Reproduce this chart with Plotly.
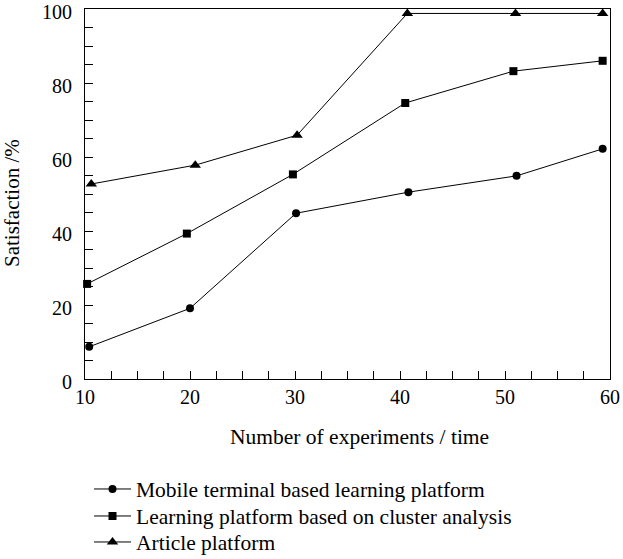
import plotly.graph_objects as go

# Data
mobile_x = [10.4, 20.0, 30.1, 40.8, 51.1, 59.3]
mobile_y = [8.7, 19.1, 44.8, 50.5, 54.9, 62.2]

cluster_x = [10.2, 19.7, 29.8, 40.5, 50.8, 59.3]
cluster_y = [25.7, 39.3, 55.3, 74.6, 83.2, 86.0]

article_x = [10.6, 20.5, 30.2, 40.7, 51.0, 59.3]
article_y = [52.7, 57.8, 65.9, 98.8, 98.8, 98.8]

series_names = [
    "Mobile terminal based learning platform",
    "Learning platform based on cluster analysis",
    "Article platform",
]
x_ticks = [10, 20, 30, 40, 50, 60]
y_ticks = [0, 20, 40, 60, 80, 100]
x_title = "Number of experiments / time"
y_title = "Satisfaction /%"

FONT = "Liberation Serif, Times New Roman, serif"
W, H = 623, 559
L, R, T, B = 85, 13, 9, 180
PW, PH = W - L - R, H - T - B

fig = go.Figure()
legend_ids = ["legend", "legend2", "legend3"]
legend_centers_px = [489, 516, 542]
for i, (xs, ys, sym, sz) in enumerate([
    (mobile_x, mobile_y, "circle", 8),
    (cluster_x, cluster_y, "square", 8),
    (article_x, article_y, "triangle-up", 10),
]):
    fig.add_trace(go.Scatter(
        x=xs, y=ys, mode="lines+markers", name=series_names[i],
        legend=legend_ids[i],
        line=dict(color="black", width=1),
        marker=dict(symbol=sym, size=sz, color="black"),
        cliponaxis=False,
    ))

legend_common = dict(
    xref="container", yref="container", xanchor="left", yanchor="middle",
    font=dict(family=FONT, size=21.5, color="black"),
    itemwidth=37, bgcolor="rgba(0,0,0,0)",
)
legend_layout = {}
for lid, cy in zip(legend_ids, legend_centers_px):
    legend_layout[lid] = dict(legend_common, x=89 / W, y=(H - cy) / H)

fig.update_layout(
    width=W, height=H,
    margin=dict(l=L, r=R, t=T, b=B, autoexpand=False),
    paper_bgcolor="white", plot_bgcolor="white",
    font=dict(family=FONT, size=20, color="black"),
    showlegend=True,
    hovermode=False,
    **legend_layout,
    xaxis=dict(
        range=[10, 60], tickvals=x_ticks, ticktext=[str(v) for v in x_ticks],
        showgrid=False, zeroline=False, automargin=False, ticklabeloverflow="allow",
        showline=True, linecolor="black", linewidth=1, mirror=True,
        ticks="inside", ticklen=8, tickcolor="black",
        minor=dict(dtick=2.5, tick0=10, ticks="inside", ticklen=8, tickcolor="black", showgrid=False),
        tickfont=dict(size=20),
    ),
    yaxis=dict(
        range=[0, 100], tickvals=y_ticks, ticktext=[str(v) for v in y_ticks],
        showgrid=False, zeroline=False, automargin=False, ticklabeloverflow="allow",
        ticklabelshift=3, ticklabelstandoff=8,
        showline=True, linecolor="black", linewidth=1, mirror=True,
        ticks="inside", ticklen=8, tickcolor="black",
        minor=dict(dtick=5, tick0=0, ticks="inside", ticklen=8, tickcolor="black", showgrid=False),
        tickfont=dict(size=20),
    ),
    annotations=[
        dict(text=x_title, xref="paper", yref="paper",
             x=(359 - L) / PW, y=(H - B - 437) / PH,
             xanchor="center", yanchor="middle", showarrow=False,
             font=dict(family=FONT, size=21.5, color="black")),
        dict(text=y_title, xref="paper", yref="paper",
             x=(12 - L) / PW, y=(H - B - 203) / PH, textangle=-90,
             xanchor="center", yanchor="middle", showarrow=False,
             font=dict(family=FONT, size=21, color="black")),
    ],
)

fig.write_html("out.html", config={"displayModeBar": False},
               post_script="document.body.style.margin='0px';")
